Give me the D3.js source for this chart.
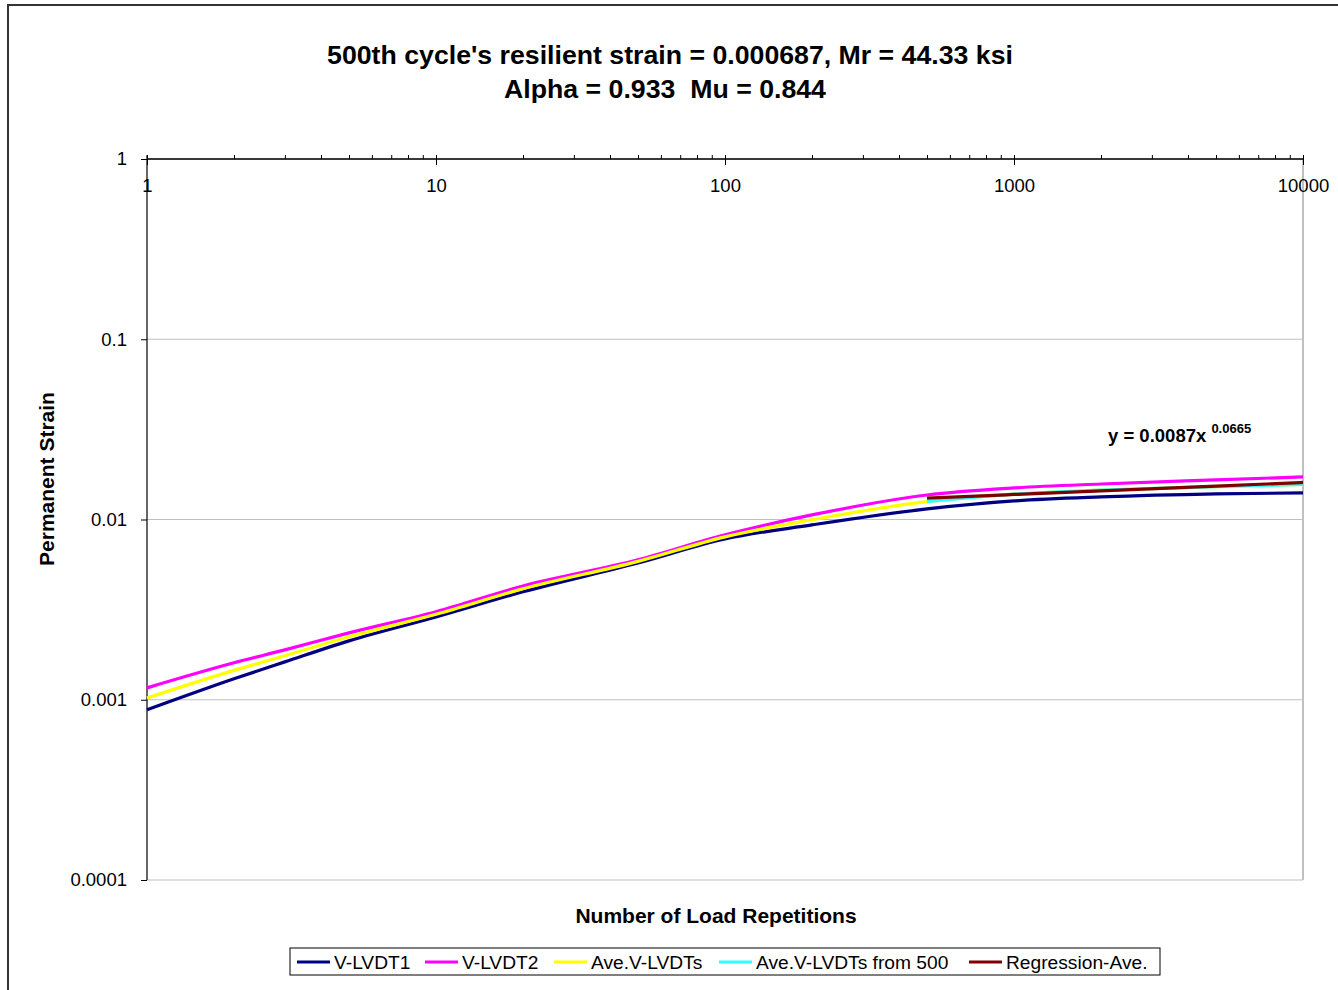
<!DOCTYPE html>
<html>
<head>
<meta charset="utf-8">
<script src="https://cdn.jsdelivr.net/npm/d3@7"></script>
<style>
	body { margin: 0; background: #fff; }
	svg { display: block; font-family: "Liberation Sans", Arial, sans-serif; }
</style>
</head>
<body>
<div id="chart"></div>
<script>
// Load repetitions where the readings were taken
const cycles = [1, 2, 3, 5, 10, 20, 50, 100, 200, 500, 1000, 2000, 5000, 10000];
const lvdt1 = [0.000879, 0.001306, 0.001622, 0.002122, 0.00288, 0.00397, 0.00574, 0.00780, 0.00933, 0.01145, 0.01268, 0.01334, 0.01387, 0.01405];
const lvdt2 = [0.001164, 0.001603, 0.00189, 0.00235, 0.00308, 0.00428, 0.00597, 0.00822, 0.01060, 0.01368, 0.01496, 0.01574, 0.01659, 0.01722];
const aveLvdt = [0.001022, 0.001455, 0.001756, 0.002236, 0.00298, 0.004125, 0.005855, 0.00801, 0.009965, 0.012565, 0.01382, 0.01454, 0.01523, 0.015635];
const cyclesFrom500 = [500, 1000, 2000, 5000, 10000];
const aveFrom500 = [0.012565, 0.01382, 0.01454, 0.01523, 0.015635];
const regression = [0.01315, 0.01377, 0.01442, 0.01533, 0.01605];

const xTicks = [1, 10, 100, 1000, 10000];
const yTicks = [0.0001, 0.001, 0.01, 0.1, 1];

const series = [
	{ name: "V-LVDT1", color: "#000080", x: cycles, y: lvdt1 },
	{ name: "V-LVDT2", color: "#ff00ff", x: cycles, y: lvdt2 },
	{ name: "Ave.V-LVDTs", color: "#ffff00", x: cycles, y: aveLvdt },
	{ name: "Ave.V-LVDTs from 500", color: "#33ffff", x: cyclesFrom500, y: aveFrom500 },
	{ name: "Regression-Ave.", color: "#800000", x: cyclesFrom500, y: regression },
];

const W = 1338, H = 990;
const plot = { left: 147, right: 1303, top: 159, bottom: 880 };

const svg = d3.select("#chart")
	.append("svg")
	.attr("width", W)
	.attr("height", H);

// chart area border (runs off the right and bottom of the picture)
svg.append("rect")
	.attr("x", 8).attr("y", 5)
	.attr("width", 1400).attr("height", 1100)
	.attr("fill", "#fff")
	.attr("stroke", "#333")
	.attr("stroke-width", 2);

const x = d3.scaleLog().domain([1, 10000]).range([plot.left, plot.right]);
const y = d3.scaleLog().domain([0.0001, 1]).range([plot.bottom, plot.top]);

// gridlines
svg.append("g")
	.selectAll("line")
	.data(yTicks)
	.join("line")
	.attr("x1", plot.left).attr("x2", plot.right)
	.attr("y1", d => y(d)).attr("y2", d => y(d))
	.attr("stroke", "#c0c0c0")
	.attr("stroke-width", 1.2);

// right border of the plot area
svg.append("line")
	.attr("x1", plot.right).attr("x2", plot.right)
	.attr("y1", plot.top).attr("y2", plot.bottom)
	.attr("stroke", "#c0c0c0")
	.attr("stroke-width", 2);

// Y axis
const yAxis = svg.append("g")
	.attr("transform", `translate(${plot.left},0)`)
	.call(d3.axisLeft(y).tickValues(yTicks).tickSize(6).tickPadding(14).tickFormat(d => String(d)));
yAxis.select(".domain").remove();
yAxis.selectAll("line").attr("stroke", "#000");
yAxis.selectAll("text")
	.style("font-size", "18.5px")
	.attr("fill", "#000");
svg.append("line")
	.attr("x1", plot.left).attr("x2", plot.left)
	.attr("y1", plot.top - 4).attr("y2", plot.bottom)
	.attr("stroke", "#000")
	.attr("stroke-width", 1.2);

// X axis along the top (crosses at 1), labels underneath
const xMinor = svg.append("g")
	.attr("transform", `translate(0,${plot.top})`)
	.call(d3.axisTop(x).tickSize(4).tickFormat(""));
xMinor.select(".domain").remove();
xMinor.selectAll("line").attr("stroke", "#000");

const xAxis = svg.append("g")
	.attr("transform", `translate(0,${plot.top - 4})`)
	.call(d3.axisBottom(x).tickValues(xTicks).tickSize(10).tickPadding(14).tickFormat(d3.format("d")));
xAxis.select(".domain").remove();
xAxis.selectAll("line").attr("stroke", "#000");
xAxis.selectAll("text")
	.style("font-size", "18.5px")
	.attr("fill", "#000");

svg.append("line")
	.attr("x1", plot.left).attr("x2", plot.right)
	.attr("y1", plot.top).attr("y2", plot.top)
	.attr("stroke", "#000")
	.attr("stroke-width", 1.5);

// series lines
const line = d3.line()
	.x(d => x(d[0]))
	.y(d => y(d[1]))
	.curve(d3.curveMonotoneX);

svg.append("g")
	.selectAll("path")
	.data(series)
	.join("path")
	.attr("d", s => line(s.x.map((v, i) => [v, s.y[i]])))
	.attr("fill", "none")
	.attr("stroke", s => s.color)
	.attr("stroke-width", 3.2)
	.attr("stroke-linejoin", "round");

// regression equation
const eq = svg.append("text")
	.attr("x", 1108)
	.attr("y", 442)
	.style("font-weight", "bold")
	.style("font-size", "18.5px");
eq.append("tspan").text("y = 0.0087x ");
eq.append("tspan")
	.attr("dy", -9)
	.style("font-size", "13px")
	.text("0.0665");

// titles
svg.append("text")
	.attr("x", 670).attr("y", 64)
	.attr("text-anchor", "middle")
	.style("font-weight", "bold")
	.style("font-size", "26.7px")
	.text("500th cycle's resilient strain = 0.000687, Mr = 44.33 ksi");

svg.append("text")
	.attr("x", 665).attr("y", 98)
	.attr("text-anchor", "middle")
	.style("font-weight", "bold")
	.style("font-size", "26.7px")
	.style("white-space", "pre")
	.text("Alpha = 0.933  Mu = 0.844");

svg.append("text")
	.attr("x", 716).attr("y", 923)
	.attr("text-anchor", "middle")
	.style("font-weight", "bold")
	.style("font-size", "21px")
	.text("Number of Load Repetitions");

svg.append("text")
	.attr("transform", "translate(54,479) rotate(-90)")
	.attr("text-anchor", "middle")
	.style("font-weight", "bold")
	.style("font-size", "21px")
	.text("Permanent Strain");

// legend
svg.append("rect")
	.attr("x", 290).attr("y", 948)
	.attr("width", 870).attr("height", 27)
	.attr("fill", "#fff")
	.attr("stroke", "#000")
	.attr("stroke-width", 1);

const legendX = [297, 425, 554, 719, 969];
const legend = svg.selectAll(".legend")
	.data(series)
	.enter().append("g")
	.attr("class", "legend")
	.attr("transform", (d, i) => `translate(${legendX[i]},962)`);

legend.append("line")
	.attr("x1", 0).attr("x2", 33)
	.attr("stroke", d => d.color)
	.attr("stroke-width", 3);

legend.append("text")
	.attr("x", 37)
	.attr("dy", "0.35em")
	.style("font-size", "19.2px")
	.text(d => d.name);
</script>
</body>
</html>
